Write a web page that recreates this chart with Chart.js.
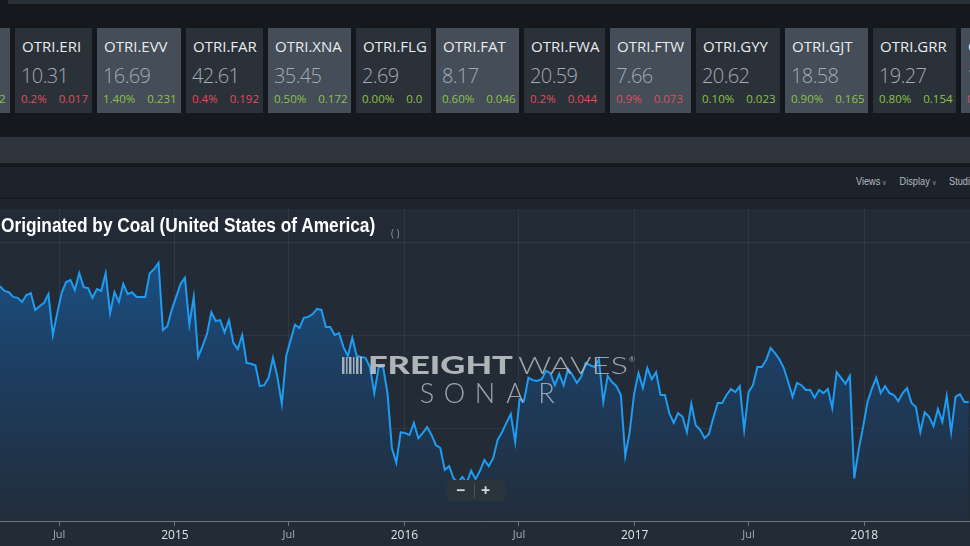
<!DOCTYPE html>
<html>
<head>
<meta charset="utf-8">
<script src="https://cdn.jsdelivr.net/npm/chart.js@4.4.1/dist/chart.umd.min.js"></script>
<style>
  body { margin: 0; width: 970px; height: 546px; overflow: hidden; background: #15191d; font-family: "Open Sans", sans-serif; position: relative; }
  .abs { position: absolute; }
  #topbar { left: 8px; top: 0; width: 962px; height: 4px; background: #2a3037; }
  #cards { left: 0; top: 28px; width: 970px; height: 85px; overflow: hidden; }
  .card { position: absolute; top: 0; height: 85px; overflow: hidden; white-space: nowrap; }
  .card.dark { background: #2b3139; }
  .card.light { background: #444d58; }
  .card .nm { position: absolute; left: 7px; top: 8px; font-size: 15px; color: #e8ebee; }
  .card .val { position: absolute; left: 6px; top: 34px; font-size: 20px; font-weight: 300; color: #a2abb6; letter-spacing: -0.6px; }
  .card .chg { position: absolute; left: 6px; top: 63px; font-size: 11.5px; display: flex; gap: 12px; }
  .up { color: #8cc348; }
  .down { color: #df4f57; }
  #band { left: 0; top: 137px; width: 970px; height: 26px; background: #2e343c; }
  #row1 { left: 0; top: 165px; width: 970px; height: 32px; background: #1d232a; border-top: 2px solid #13171b; }
  #row2 { left: 0; top: 198px; width: 970px; height: 11px; background: #1f252c; border-top: 1px solid #13171b; }
  #menu { right: 0; top: 176px; font-family: "Liberation Sans Narrow", sans-serif; font-size: 10px; color: #b3bac2; display: flex; gap: 14px; transform: scaleX(0.92); transform-origin: right; }
  #menu span::after { content: " \2228"; font-size: 7px; color: #8a929b; }
  #menu span.cut::after { content: ""; }
  #chartbox { left: 0; top: 209px; width: 970px; height: 337px; background: #232c36; }
  #title { left: 1px; top: 214px; font-family: "Liberation Sans", sans-serif; font-weight: bold; font-size: 20px; color: #ffffff; white-space: nowrap; transform: scaleX(0.865); transform-origin: left; }
  #paren { left: 391px; top: 226px; font-size: 10px; color: #8a939c; }
  #zoombtn { left: 447px; top: 480px; width: 58px; height: 21px; background: #2b333d; border-radius: 3px; color: #d5d9dd; font-size: 16px; font-weight: bold; }
  #zoombtn .m { position: absolute; left: 9px; top: -1px; }
  #zoombtn .p { position: absolute; left: 34px; top: -1px; }
  #zoombtn .sep { position: absolute; left: 27px; top: 3px; width: 1px; height: 15px; background: #46515c; }
</style>
</head>
<body>
<div id="topbar" class="abs"></div>
<div id="cards" class="abs"></div>
<div id="band" class="abs"></div>
<div id="row1" class="abs"></div>
<div id="row2" class="abs"></div>
<div id="menu" class="abs"><span>Views</span><span>Display</span><span class="cut">Studi</span></div>
<div id="chartbox" class="abs"><canvas id="chart"></canvas></div>
<div id="title" class="abs">Originated by Coal (United States of America)</div>
<div id="paren" class="abs">( )</div>
<div id="zoombtn" class="abs"><span class="m">&minus;</span><span class="sep"></span><span class="p">+</span></div>

<script>
// ticker strip
const tickerNames = ["", "OTRI.ERI", "OTRI.EVV", "OTRI.FAR", "OTRI.XNA", "OTRI.FLG", "OTRI.FAT", "OTRI.FWA", "OTRI.FTW", "OTRI.GYY", "OTRI.GJT", "OTRI.GRR", "OTRI."];
const tickerValues = ["", "10.31", "16.69", "42.61", "35.45", "2.69", "8.17", "20.59", "7.66", "20.62", "18.58", "19.27", "1"];
const tickerPct = ["", "0.2%", "1.40%", "0.4%", "0.50%", "0.00%", "0.60%", "0.2%", "0.9%", "0.10%", "0.90%", "0.80%", "0"];
const tickerChange = ["2", "0.017", "0.231", "0.192", "0.172", "0.0", "0.046", "0.044", "0.073", "0.023", "0.165", "0.154", ""];
const tickerUp = [true, false, true, false, true, true, true, false, false, true, true, true, false];

// chart data: weekly carloads (thousands), first week and tick marks
const firstWeek = "2014-03-29";
const coalCarloads = [
  100.5, 99.5, 99.2, 98.2, 98.0, 97.1, 98.6, 99.0, 95.4, 96.2,
  96.9, 98.8, 90.0, 94.7, 99.0, 101.4, 101.8, 99.7, 103.3, 100.3,
  100.1, 98.0, 99.9, 99.5, 103.3, 94.7, 99.2, 97.1, 101.0, 98.8,
  99.2, 98.2, 98.2, 98.2, 103.3, 104.2, 105.5, 91.1, 91.9, 95.4,
  98.2, 101.0, 102.3, 92.2, 98.2, 85.3, 87.6, 90.2, 94.9, 93.0,
  93.2, 90.6, 93.2, 88.3, 87.0, 90.0, 84.0, 83.8, 83.5, 79.0,
  79.2, 80.8, 85.1, 81.0, 75.2, 85.5, 88.9, 92.2, 91.5, 93.7,
  93.9, 94.5, 95.6, 95.4, 91.7, 91.7, 90.0, 90.4, 87.4, 85.5,
  89.4, 85.5, 85.3, 85.1, 83.1, 77.5, 83.1, 83.1, 77.5, 65.7,
  62.5, 69.1, 68.9, 68.5, 71.1, 67.8, 68.9, 70.2, 68.5, 66.3,
  65.7, 61.0, 61.8, 59.2, 58.2, 59.5, 58.2, 60.8, 59.0, 60.8,
  63.1, 61.8, 63.5, 67.4, 69.1, 71.1, 73.0, 67.0, 76.2, 75.8,
  80.8, 80.3, 80.1, 80.5, 82.3, 81.8, 79.2, 81.6, 79.2, 82.7,
  81.4, 79.7, 81.0, 84.0, 83.5, 83.1, 84.8, 75.6, 81.2, 79.9,
  79.0, 77.1, 64.0, 69.1, 77.3, 81.8, 78.6, 82.9, 80.5, 82.0,
  77.1, 77.1, 73.2, 71.1, 73.2, 72.4, 69.1, 75.2, 70.6, 69.6,
  67.8, 68.7, 72.2, 75.4, 75.4, 77.1, 78.4, 77.7, 79.0, 69.6,
  77.7, 79.2, 83.1, 83.1, 84.6, 87.2, 86.1, 84.8, 82.9, 79.9,
  76.7, 79.7, 79.2, 78.2, 78.2, 76.5, 78.2, 77.5, 78.4, 74.3,
  82.0, 80.8, 79.5, 81.2, 59.2, 65.3, 70.2, 75.6, 78.4, 80.8,
  77.5, 79.0, 77.5, 77.1, 75.8, 77.5, 78.6, 75.4, 74.5, 69.1,
  73.4, 72.4, 70.4, 74.1, 71.3, 76.9, 69.1, 76.7, 77.3, 75.6,
  75.6
];
const tickDates = ["2014-07-01", "2015-01-01", "2015-07-01", "2016-01-01", "2016-07-01", "2017-01-01", "2017-07-01", "2018-01-01"];
const tickLabels = ["Jul", "2015", "Jul", "2016", "Jul", "2017", "Jul", "2018"];
const gridValues = [50, 70, 90, 110];
const xEnd = "2018-06-18";
const yMin = 50;
const yMax = 117.1;

// card boxes (left edge, width)
const cardLeft = [-72, 15, 97, 186, 268, 356, 436, 524, 610, 696, 785, 873, 961];
const cardWidth = [82, 77, 84, 77, 83, 75, 83, 81, 81, 84, 83, 83, 60];

const cards = document.getElementById("cards");
tickerNames.forEach((nm, i) => {
  const c = document.createElement("div");
  c.className = "card " + (i % 2 === 0 ? "light" : "dark");
  c.style.left = cardLeft[i] + "px";
  c.style.width = cardWidth[i] + "px";
  const cls = tickerUp[i] ? "up" : "down";
  if (i === 0) {
    c.innerHTML = `<div class="chg ${cls}" style="left:71px">${tickerChange[i]}</div>`;
  } else {
    c.innerHTML = `<div class="nm">${nm}</div><div class="val">${tickerValues[i]}</div>` +
      `<div class="chg ${cls}"><span>${tickerPct[i]}</span><span>${tickerChange[i]}</span></div>`;
  }
  cards.appendChild(c);
});

function dayOf(s) {
  return (Date.parse(s + "T00:00:00Z") - Date.UTC(2014, 0, 1)) / 864e5;
}

const startDay = dayOf(firstWeek);
const points = coalCarloads.map((v, i) => ({ x: startDay + i * 7, y: v }));
const tickDays = tickDates.map(dayOf);

// watermark drawn over the filled area
const watermark = {
  id: "watermark",
  afterDatasetsDraw(chart) {
    const ctx = chart.ctx;
    const top = 209;
    ctx.save();
    ctx.fillStyle = "rgba(200,204,208,0.8)";
    const bars = [[342, 2.5], [346, 1.5], [349, 2.5], [353, 1.5], [356, 2.5], [360, 2]];
    bars.forEach(([bx, bw]) => ctx.fillRect(bx, 357 - top, bw, 17));
    function fitText(txt, font, x, base, w, color) {
      ctx.font = font;
      ctx.fillStyle = color;
      const m = ctx.measureText(txt).width;
      ctx.save();
      ctx.translate(x, base);
      ctx.scale(w / m, 1);
      ctx.fillText(txt, 0, 0);
      ctx.restore();
    }
    ctx.textBaseline = "alphabetic";
    fitText("FREIGHT", "900 24px Lato", 368, 374 - top, 145, "rgba(200,204,208,0.85)");
    fitText("WAVES", '300 24px "Lato Light", Lato', 518, 374 - top, 110, "rgba(190,194,198,0.8)");
    ctx.font = "7px Lato";
    ctx.fillText("\u00ae", 629, 362 - top);
    const sonar = ["S", "O", "N", "A", "R"];
    const sx = [427, 454.5, 485, 515, 546.5];
    ctx.font = '300 27px "Lato Light", Lato';
    ctx.textAlign = "center";
    ctx.fillStyle = "rgba(190,194,198,0.8)";
    sonar.forEach((ch, i) => ctx.fillText(ch, sx[i], 403 - top));
    ctx.restore();
  }
};

const ctx = document.getElementById("chart").getContext("2d");
new Chart(ctx, {
  type: "line",
  data: {
    datasets: [
      {
        data: points,
        borderColor: "#1e9cf2",
        borderWidth: 2,
        pointRadius: 0,
        tension: 0,
        fill: "start",
        backgroundColor: function (context) {
          const area = context.chart.chartArea;
          if (!area) return "#1c4a76";
          const g = context.chart.ctx.createLinearGradient(0, area.top + 40, 0, area.bottom);
          g.addColorStop(0, "#1b5185");
          g.addColorStop(0.45, "#1d3d60");
          g.addColorStop(1, "#222d3b");
          return g;
        },
      },
    ],
  },
  options: {
    responsive: true,
    maintainAspectRatio: false,
    animation: false,
    layout: { padding: 0 },
    plugins: { legend: { display: false }, tooltip: { enabled: false } },
    scales: {
      x: {
        type: "linear",
        min: startDay,
        max: dayOf(xEnd),
        afterBuildTicks: (s) => {
          s.ticks = tickDays.map((d) => ({ value: d }));
        },
        afterFit: (s) => {
          s.height = 25;
        },
        grid: {
          color: "rgba(255,255,255,0.055)",
          drawTicks: true,
          tickLength: 5,
          tickColor: "#6b7580",
        },
        border: { display: true, color: "#6b7580" },
        ticks: {
          padding: 2,
          maxRotation: 0,
          autoSkip: false,
          font: function (c) {
            const lab = tickLabels[c.index] || "";
            return { family: "Open Sans", size: lab === "Jul" ? 11 : 12 };
          },
          color: function (c) {
            return tickLabels[c.index] === "Jul" ? "#a3abb3" : "#dfe3e7";
          },
          callback: function (value, index) {
            return tickLabels[index];
          },
        },
      },
      y: {
        min: yMin,
        max: yMax,
        afterBuildTicks: (s) => {
          s.ticks = gridValues.map((v) => ({ value: v }));
        },
        afterFit: (s) => {
          s.width = 0;
        },
        grid: { color: "rgba(255,255,255,0.055)", drawTicks: false },
        border: { display: false },
        ticks: { display: false },
      },
    },
  },
  plugins: [watermark],
});
</script>
</body>
</html>
